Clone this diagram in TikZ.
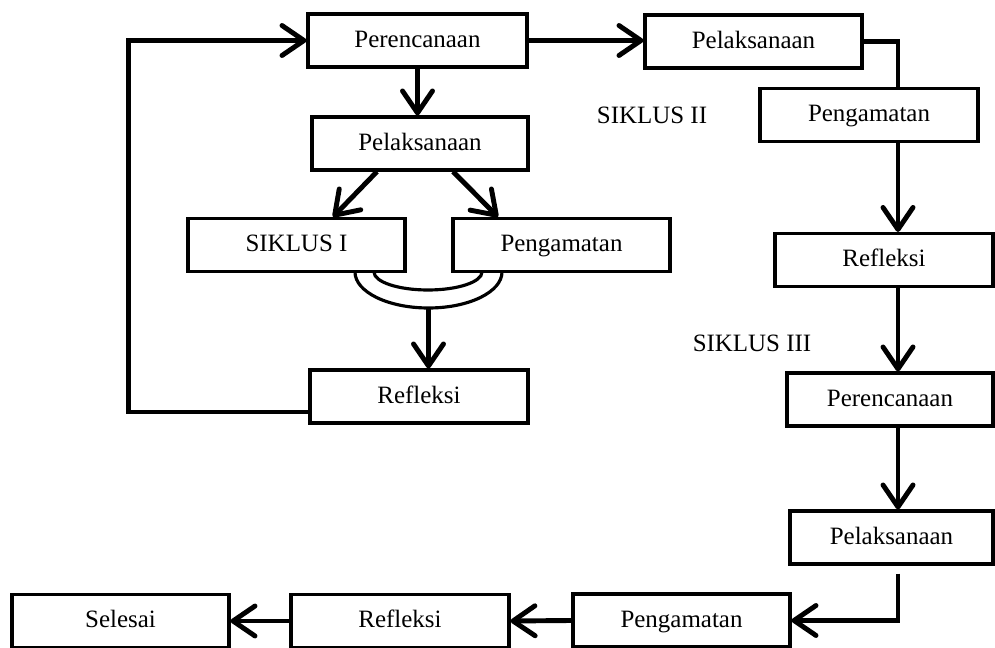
\documentclass[tikz,border=0pt]{standalone}
\usepackage{fontspec}
\setmainfont{Liberation Serif}
\usetikzlibrary{arrows.meta,positioning}
\tikzset{
  box/.style={draw, line width=1.8pt, minimum height=1.06cm, inner sep=0pt,
    text height=2.2ex, text depth=0.5ex,
    font=\fontsize{14.2}{17}\selectfont, text=black},
  lab/.style={font=\fontsize{14.2}{17}\selectfont, text=black},
  arr/.style={-{Straight Barb[round, length=4.4mm, width=6mm]}, line width=2.8pt},
  link/.style={line width=2.8pt},
  ushape/.style={line width=1.8pt}
}

\begin{document}
\begin{tikzpicture}[x=0.02cm,y=-0.02cm]
\useasboundingbox (0,0) rectangle (995,648);

% ---------------- Siklus I ----------------
\node[box, minimum width=4.38cm] (plan1) at (417.5,40.5) {Perencanaan};
\node[box, minimum width=4.32cm] (pel1) at (420,143.5) {Pelaksanaan};
\node[box, minimum width=4.34cm] (sik1) at (296.5,245) {SIKLUS I};
\node[box, minimum width=4.34cm] (peng1) at (561.5,245) {Pengamatan};
\node[box, minimum width=4.36cm] (ref1) at (419,396.5) {Refleksi};

\draw[arr] (plan1.south) -- (plan1.south |- pel1.north);
\draw[arr] ([xshift=-0.86cm]pel1.south) -- ([xshift=0.73cm]sik1.north);
\draw[arr] ([xshift=0.66cm]pel1.south) -- ([xshift=-1.27cm]peng1.north);

% double arc under the two boxes
\draw[ushape] (355,272) arc[start angle=180, end angle=0, x radius=73.5, y radius=36];
\draw[ushape] (374,272) arc[start angle=180, end angle=0, x radius=54, y radius=18];
\coordinate (ubot) at (428.5,308);
\draw[arr] (ubot) -- (ubot |- ref1.north);

% back to the plan
\draw[arr] ([yshift=-0.31cm]ref1.west) -- ++(-180,0) |- (plan1.west);

% ---------------- Siklus II ----------------
\node[box, minimum width=4.34cm] (pel2) at (753.5,41.5) {Pelaksanaan};
\node[lab] (sik2) at (652,115) {SIKLUS II};
\node[box, minimum width=4.36cm] (peng2) at (869,115) {Pengamatan};
\node[box, minimum width=4.36cm] (ref2) at (884,260) {Refleksi};

\coordinate (spine) at (898,0);
\draw[arr] (plan1.east) -- (plan1.east -| pel2.west);
\draw[link] (pel2.east) -| (peng2.north -| spine);
\draw[arr] (peng2.south -| spine) -- (ref2.north -| spine);

% ---------------- Siklus III ----------------
\node[lab] (sik3) at (752,343) {SIKLUS III};
\node[box, minimum width=4.12cm] (plan3) at (890,399.5) {Perencanaan};
\node[box, minimum width=4.06cm] (pel3) at (891.5,537.5) {Pelaksanaan};
\node[box, minimum width=4.34cm] (peng3) at (681.5,620.5) {Pengamatan};
\node[box, minimum width=4.36cm] (ref3) at (400,621) {Refleksi};
\node[box, minimum width=4.34cm] (sel) at (120.5,621) {Selesai};

\draw[arr] (ref2.south -| spine) -- (plan3.north -| spine);
\draw[arr] (plan3.south -| spine) -- (pel3.north -| spine);
\draw[arr] ([yshift=-0.16cm]pel3.south -| spine) |- (peng3.east);
\draw[arr] (peng3.west) -- (ref3.east);
\draw[arr] (ref3.west) -- (sel.east);

\end{tikzpicture}
\end{document}
